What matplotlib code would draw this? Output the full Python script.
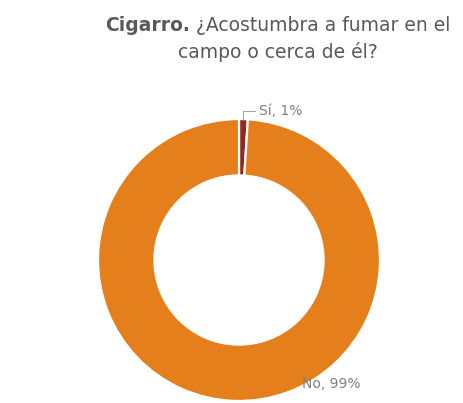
import matplotlib.pyplot as plt
import numpy as np

labels = ['Sí', 'No']
values = [1, 99]
colors = ['#8E2A1E', '#E47F1C']

title_bold = 'Cigarro.'
title_rest = ' ¿Acostumbra a fumar en el'
title_line2 = 'campo o cerca de él?'

plt.rcParams['font.family'] = ['DejaVu Sans']

fig = plt.figure(figsize=(4.64, 4.03), dpi=100)
ax = fig.add_axes([0.1918, -0.0174, 0.6466, 0.7444])

wedges, _ = ax.pie(values, colors=colors, startangle=90, counterclock=False,
                   radius=1.0,
                   wedgeprops=dict(width=0.4, edgecolor='white', linewidth=1.6))
ax.set_xlim(-1.064, 1.064)
ax.set_ylim(-1.064, 1.064)
ax.set_aspect('equal')

label_color = '#7F7F7F'

# "Sí" label with elbow leader line from the top of its slice
w = wedges[0]
ang = np.deg2rad((w.theta1 + w.theta2) / 2)
x0, y0 = np.cos(ang), np.sin(ang)
ax.plot([x0, x0, x0 + 0.08], [y0, y0 + 0.055, y0 + 0.055],
        color='#A6A6A6', lw=0.8, clip_on=False)
ax.text(x0 + 0.11, y0 + 0.055, f'{labels[0]}, {values[0]}%', color=label_color,
        fontsize=10, ha='left', va='center')

# "No" label at the lower right edge of the ring
ax.text(0.45, -0.88, f'{labels[1]}, {values[1]}%', color=label_color,
        fontsize=10, ha='left', va='center')

# Title: bold lead-in followed by regular text on the same line
title_color = '#595959'
fig.canvas.draw()
r = fig.canvas.get_renderer()
tb = fig.text(0, 0, title_bold, fontsize=13.5, fontweight='bold', color=title_color)
tr = fig.text(0, 0, title_rest, fontsize=13.5, color=title_color)
wb = tb.get_window_extent(r).width
wr = tr.get_window_extent(r).width
cx = 278
x_start = cx - (wb + wr) / 2
y1 = 403 - 31
tb.set_position((x_start / 464, y1 / 403))
tr.set_position(((x_start + wb) / 464, y1 / 403))
fig.text(cx / 464, (403 - 58) / 403, title_line2, fontsize=13.5,
         color=title_color, ha='center')

fig.savefig('out.png', dpi=100)
